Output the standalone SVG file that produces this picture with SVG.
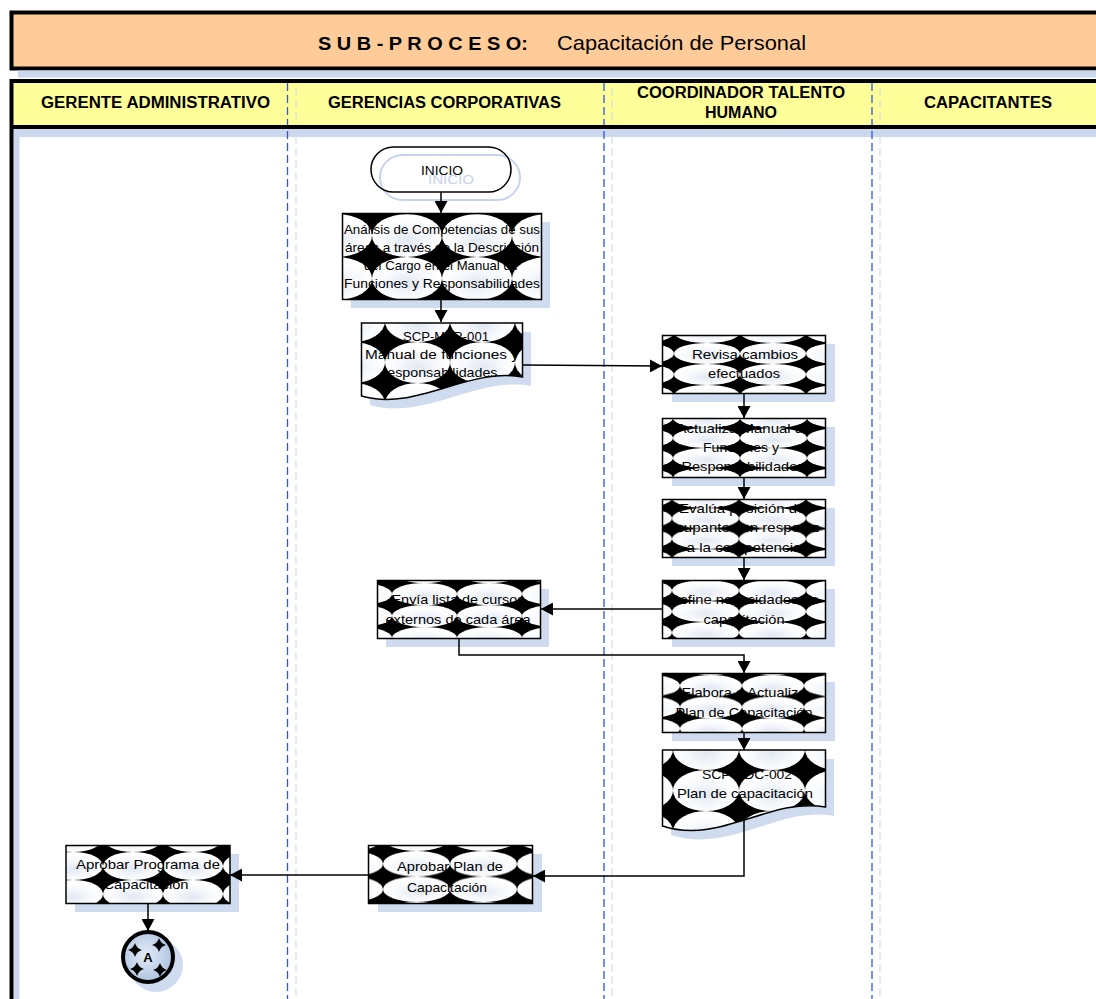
<svg xmlns="http://www.w3.org/2000/svg" width="1096" height="999" viewBox="0 0 1096 999">
<defs>
<style>
.t{font-family:"Liberation Sans",Arial,sans-serif;font-size:13.5px;fill:#000;text-anchor:middle}
.h{font-family:"Liberation Sans",Arial,sans-serif;font-size:16px;font-weight:bold;fill:#000;text-anchor:middle}
.box{stroke:#000;stroke-width:1.5}
.sh{fill:#CFDBEE}
.ln{fill:none;stroke:#000;stroke-width:1.5;marker-end:url(#ah)}
.lane{fill:none;stroke:#2A55E8;stroke-width:1.3;stroke-dasharray:8 4}
.lane2{fill:none;stroke:#D5DCE8;stroke-width:1.2;stroke-dasharray:8 4}
.band{fill:#CBD7EC}
</style>
<marker id="ah" markerUnits="userSpaceOnUse" markerWidth="13" markerHeight="13" refX="12" refY="6.5" orient="auto"><path d="M0,0 L12,6.5 L0,13 Z" fill="#000"/></marker>
<radialGradient id="eg" cx="0.5" cy="0.6" r="0.5"><stop offset="0" stop-color="#E2E8F2"/><stop offset="0.6" stop-color="#F7F9FC"/><stop offset="1" stop-color="#FFFFFF"/></radialGradient>
<radialGradient id="cg" cx="0.45" cy="0.45" r="0.6"><stop offset="0" stop-color="#E4ECF7"/><stop offset="1" stop-color="#A9C0DF"/></radialGradient>
<pattern id="pA" patternUnits="userSpaceOnUse" x="372" y="214" width="70" height="43"><rect width="70" height="43"/><ellipse cx="35" cy="21.5" rx="35" ry="21.5" fill="url(#eg)"/></pattern>
<pattern id="pD1" patternUnits="userSpaceOnUse" x="385" y="342" width="65" height="41"><rect width="65" height="41"/><ellipse cx="32.5" cy="20.5" rx="32.5" ry="20.5" fill="url(#eg)"/></pattern>
<pattern id="pRev" patternUnits="userSpaceOnUse" x="674" y="343" width="66" height="21"><rect width="66" height="21"/><ellipse cx="33" cy="10.5" rx="33" ry="10.5" fill="url(#eg)"/></pattern>
<pattern id="pAct" patternUnits="userSpaceOnUse" x="673" y="428" width="67" height="20"><rect width="67" height="20"/><ellipse cx="33.5" cy="10" rx="33.5" ry="10" fill="url(#eg)"/></pattern>
<pattern id="pEva" patternUnits="userSpaceOnUse" x="672" y="508" width="67" height="20.5"><rect width="67" height="20.5"/><ellipse cx="33.5" cy="10.25" rx="33.5" ry="10.25" fill="url(#eg)"/></pattern>
<pattern id="pDef" patternUnits="userSpaceOnUse" x="672" y="601" width="67" height="21"><rect width="67" height="21"/><ellipse cx="33.5" cy="10.5" rx="33.5" ry="10.5" fill="url(#eg)"/></pattern>
<pattern id="pEnv" patternUnits="userSpaceOnUse" x="392" y="605" width="65" height="22"><rect width="65" height="22"/><ellipse cx="32.5" cy="11" rx="32.5" ry="11" fill="url(#eg)"/></pattern>
<pattern id="pEla" patternUnits="userSpaceOnUse" x="680" y="675" width="62" height="21.5"><rect width="62" height="21.5"/><ellipse cx="31" cy="10.75" rx="31" ry="10.75" fill="url(#eg)"/></pattern>
<pattern id="pD2" patternUnits="userSpaceOnUse" x="673" y="770" width="66" height="41"><rect width="66" height="41"/><ellipse cx="33" cy="20.5" rx="33" ry="20.5" fill="url(#eg)"/></pattern>
<pattern id="pApl" patternUnits="userSpaceOnUse" x="383" y="851" width="67" height="25.5"><rect width="67" height="25.5"/><ellipse cx="33.5" cy="12.75" rx="33.5" ry="12.75" fill="url(#eg)"/></pattern>
<pattern id="pApg" patternUnits="userSpaceOnUse" x="103" y="852" width="60" height="28"><rect width="60" height="28"/><ellipse cx="30" cy="14" rx="30" ry="14" fill="url(#eg)"/></pattern>
<path id="star" d="M0,-7 Q1.6,-1.6 7,0 Q1.6,1.6 0,7 Q-1.6,1.6 -7,0 Q-1.6,-1.6 0,-7 Z"/>
</defs>

<g id="frame">
<rect x="11.5" y="12.5" width="1100" height="56" fill="#FFCC99" stroke="#000" stroke-width="4"/>
<rect class="band" x="18" y="70.5" width="1100" height="7"/>
<text x="423" y="50" font-family="Liberation Sans, Arial, sans-serif" font-size="19" font-weight="bold" text-anchor="middle" textLength="210" lengthAdjust="spacingAndGlyphs">S U B - P R O C E S O:</text>
<text x="681.5" y="50" font-family="Liberation Sans, Arial, sans-serif" font-size="21" text-anchor="middle" textLength="249" lengthAdjust="spacingAndGlyphs">Capacitación de Personal</text>
<rect x="11.5" y="81" width="1100" height="940" fill="#FFFFFF"/>
<rect x="11.5" y="81" width="1100" height="46" fill="#FFFF99"/>
<rect class="band" x="13.5" y="129" width="1100" height="8"/>
<rect class="band" x="13.5" y="129" width="6" height="880"/>
<line class="lane2" x1="296" y1="88" x2="296" y2="999"/>
<line class="lane2" x1="612" y1="88" x2="612" y2="999"/>
<line class="lane2" x1="880" y1="88" x2="880" y2="999"/>
<line class="lane" x1="287.5" y1="83" x2="287.5" y2="999"/>
<line class="lane" x1="604" y1="83" x2="604" y2="999"/>
<line class="lane" x1="872" y1="83" x2="872" y2="999"/>
<rect x="11.5" y="81" width="1100" height="940" fill="none" stroke="#000" stroke-width="4"/>
<line x1="11.5" y1="127" x2="1112" y2="127" stroke="#000" stroke-width="4"/>
<text class="h" x="155.5" y="108" textLength="229" lengthAdjust="spacingAndGlyphs">GERENTE ADMINISTRATIVO</text>
<text class="h" x="444.5" y="108" textLength="233" lengthAdjust="spacingAndGlyphs">GERENCIAS CORPORATIVAS</text>
<text class="h" x="741" y="98" textLength="208" lengthAdjust="spacingAndGlyphs">COORDINADOR TALENTO</text>
<text class="h" x="741" y="118" textLength="72" lengthAdjust="spacingAndGlyphs">HUMANO</text>
<text class="h" x="988" y="108" textLength="128" lengthAdjust="spacingAndGlyphs">CAPACITANTES</text>
</g>

<g id="n-inicio">
<rect x="380" y="155" width="140" height="45" rx="22.5" fill="none" stroke="#C5D3EC" stroke-width="2"/>
<text class="t" x="451" y="184" font-size="14" style="fill:#C5D3EC" textLength="46" lengthAdjust="spacingAndGlyphs">INICIO</text>
<rect x="371" y="147" width="140" height="45" rx="22.5" fill="none" stroke="#000" stroke-width="1.5"/>
<text class="t" x="442" y="175" font-size="14" textLength="42" lengthAdjust="spacingAndGlyphs">INICIO</text>
</g>

<g id="n-analisis">
<rect class="sh" x="351" y="222" width="199" height="86"/>
<rect class="box" x="342.5" y="213.5" width="199" height="86" fill="url(#pA)"/>
<text class="t" x="442" y="234" textLength="196" lengthAdjust="spacingAndGlyphs">Análisis de Competencias de sus</text>
<text class="t" x="442" y="252" textLength="194" lengthAdjust="spacingAndGlyphs">áreas a través de la Descripción</text>
<text class="t" x="441" y="270" textLength="154" lengthAdjust="spacingAndGlyphs">del Cargo en el Manual de</text>
<text class="t" x="442" y="288" textLength="196" lengthAdjust="spacingAndGlyphs">Funciones y Responsabilidades</text>
</g>

<g id="n-doc1">
<path class="sh" d="M370,332 H531 V386 C476,376 426,421 370,405 Z"/>
<path class="box" d="M361.5,323 H522.5 V377 C467,367 417,412 361.5,396 Z" fill="url(#pD1)"/>
<text class="t" x="446" y="341" textLength="86" lengthAdjust="spacingAndGlyphs">SCP-MFR-001</text>
<text class="t" x="442" y="359" textLength="154" lengthAdjust="spacingAndGlyphs">Manual de funciones y</text>
<text class="t" x="440" y="377" textLength="115" lengthAdjust="spacingAndGlyphs">responsabilidades</text>
</g>

<g id="n-revisa">
<rect class="sh" x="672" y="344" width="163" height="58"/>
<rect class="box" x="662.5" y="335.5" width="163" height="58" fill="url(#pRev)"/>
<text class="t" x="745" y="359" textLength="106" lengthAdjust="spacingAndGlyphs">Revisa cambios</text>
<text class="t" x="744" y="378" textLength="72" lengthAdjust="spacingAndGlyphs">efectuados</text>
</g>

<g id="n-actualiza">
<rect class="sh" x="672" y="427" width="163" height="59"/>
<rect class="box" x="662.5" y="418.5" width="163" height="59" fill="url(#pAct)"/>
<text class="t" x="744" y="433" textLength="135" lengthAdjust="spacingAndGlyphs">Actualiza Manual de</text>
<text class="t" x="741" y="452" textLength="76" lengthAdjust="spacingAndGlyphs">Funciones y</text>
<text class="t" x="743" y="471" textLength="123" lengthAdjust="spacingAndGlyphs">Responsabilidades</text>
</g>

<g id="n-evalua">
<rect class="sh" x="672" y="508" width="163" height="58"/>
<rect class="box" x="662.5" y="499.5" width="163" height="58" fill="url(#pEva)"/>
<text class="t" x="744" y="513" textLength="130" lengthAdjust="spacingAndGlyphs">Evalúa posición del</text>
<text class="t" x="744" y="532" textLength="152" lengthAdjust="spacingAndGlyphs">ocupante con respecto</text>
<text class="t" x="744" y="552" textLength="115" lengthAdjust="spacingAndGlyphs">a la competencia</text>
</g>

<g id="n-define">
<rect class="sh" x="672" y="589" width="163" height="58"/>
<rect class="box" x="662.5" y="580.5" width="163" height="58" fill="url(#pDef)"/>
<text class="t" x="744" y="604" textLength="150" lengthAdjust="spacingAndGlyphs">Define necesidades de</text>
<text class="t" x="744" y="624" textLength="81" lengthAdjust="spacingAndGlyphs">capacitación</text>
</g>

<g id="n-envia">
<rect class="sh" x="386" y="589" width="163" height="58"/>
<rect class="box" x="377.5" y="580.5" width="163" height="58" fill="url(#pEnv)"/>
<text class="t" x="458" y="604" textLength="133" lengthAdjust="spacingAndGlyphs">Envía lista de cursos</text>
<text class="t" x="458" y="624" textLength="145" lengthAdjust="spacingAndGlyphs">externos de cada área</text>
</g>

<g id="n-elabora">
<rect class="sh" x="672" y="682" width="163" height="59"/>
<rect class="box" x="662.5" y="673.5" width="163" height="59" fill="url(#pEla)"/>
<text class="t" x="744" y="697" textLength="125" lengthAdjust="spacingAndGlyphs">Elabora o Actualiza</text>
<text class="t" x="744" y="717" textLength="137" lengthAdjust="spacingAndGlyphs">Plan de Capacitación</text>
</g>

<g id="n-doc2">
<path class="sh" d="M671,759 H834 V816 C779,806 729,854 671,835 Z"/>
<path class="box" d="M662.5,750 H825.5 V807 C770,797 720,845 662.5,826 Z" fill="url(#pD2)"/>
<text class="t" x="747" y="779" textLength="90" lengthAdjust="spacingAndGlyphs">SCP-PDC-002</text>
<text class="t" x="745" y="798" textLength="136" lengthAdjust="spacingAndGlyphs">Plan de capacitación</text>
</g>

<g id="n-aprobar-plan">
<rect class="sh" x="378" y="854" width="164" height="58"/>
<rect class="box" x="368.5" y="845.5" width="164" height="58" fill="url(#pApl)"/>
<text class="t" x="450" y="871" textLength="106" lengthAdjust="spacingAndGlyphs">Aprobar Plan de</text>
<text class="t" x="447" y="892" textLength="80" lengthAdjust="spacingAndGlyphs">Capacitación</text>
</g>

<g id="n-aprobar-programa">
<rect class="sh" x="75" y="854" width="164" height="58"/>
<rect class="box" x="66" y="845.5" width="164" height="58" fill="url(#pApg)"/>
<text class="t" x="148" y="869" textLength="144" lengthAdjust="spacingAndGlyphs">Aprobar Programa de</text>
<text class="t" x="146" y="889" textLength="85" lengthAdjust="spacingAndGlyphs">Capacitación</text>
</g>

<g id="n-a">
<circle class="sh" cx="156" cy="965" r="27"/>
<circle cx="148" cy="957" r="25" fill="url(#cg)" stroke="#000" stroke-width="4"/>
<use href="#star" x="135" y="950"/>
<use href="#star" x="159" y="945"/>
<use href="#star" x="137" y="969"/>
<use href="#star" x="160" y="970"/>
<text x="148" y="962" font-family="Liberation Sans, Arial, sans-serif" font-size="13" font-weight="bold" text-anchor="middle">A</text>
</g>

<g id="connectors">
<path class="ln" d="M441,192 V213"/>
<path class="ln" d="M441,300 V322"/>
<path class="ln" d="M523,365 L662,366"/>
<path class="ln" d="M744,394 V418"/>
<path class="ln" d="M744,478 V499"/>
<path class="ln" d="M744,558 V580"/>
<path class="ln" d="M662,609 H541"/>
<path class="ln" d="M459,639 V655 H744 V673"/>
<path class="ln" d="M744,733 V750"/>
<path class="ln" d="M744,820 V876 H533"/>
<path class="ln" d="M368,875 H230"/>
<path class="ln" d="M148,904 V931"/>
</g>
</svg>
